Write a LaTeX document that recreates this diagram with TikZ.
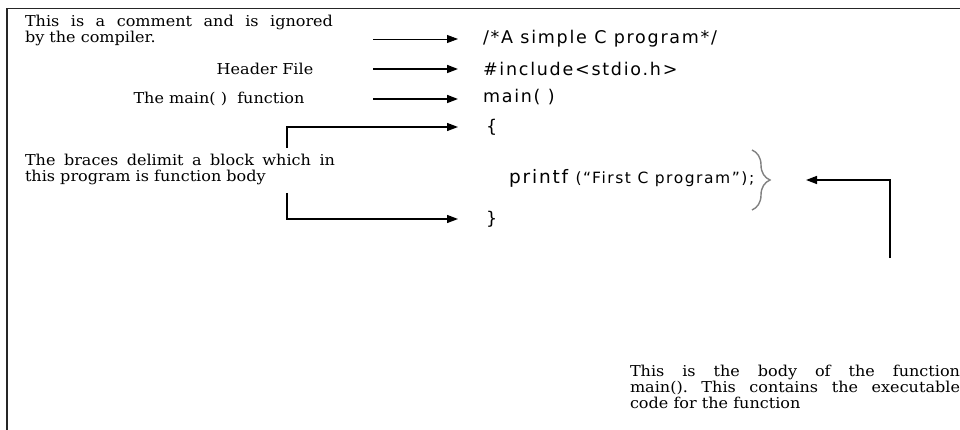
\documentclass[tikz,border=0pt]{standalone}
\usepackage{fontspec}
\setmainfont{DejaVu Serif}[FakeStretch=1.07]
\newfontfamily\codefont{DejaVu Sans}[LetterSpace=10]
\usepackage{tikz}
\usetikzlibrary{arrows.meta,decorations.pathreplacing}

\begin{document}
\frenchspacing
\begin{tikzpicture}[x=1pt,y=-1pt,every node/.style={inner sep=0pt,outer sep=0pt},
    note/.style={anchor=north west,align=justify,font=\fontsize{15}{16}\selectfont},
    label/.style={font=\fontsize{15}{16}\selectfont},
    code/.style={anchor=west,font=\codefont\fontsize{17.5}{20}\selectfont},
    pointer/.style={-{Triangle[length=11pt,width=8pt]},line width=1.6pt,shorten >=25pt}]
  \useasboundingbox (0,0) rectangle (960,430);
  \draw[line width=1.3pt,black!85] (7,430) -- (7,8.5) -- (960,8.5);
  \node[note,text width=308pt] (comment) at (25,15) {This is a comment and is ignored\linebreak by the compiler.};
  \node[label] (header) at (265,69) {Header File};
  \node[label] (mainfn) at (219,99) {The main(\ )\ \ function};
  \node[note,text width=310pt] (braces) at (25,154) {The braces delimit a block which in\linebreak this program is function body};
  \node[note,text width=330pt] (body) at (630,365) {This is the body of the function\linebreak main(). This contains the executable\linebreak code for the function};
  \node[code] (cmt) at (483,39) {/*A simple C program*/};
  \node[code] (incl) at (483,69) {\#include<stdio.h>};
  \node[code] (main) at (483,97) {main( )};
  \node[code] (open) at (486,127) {\{};
  \node[code] (stmt) at (509,178) {{\fontsize{18.5}{20}\selectfont printf} {\fontsize{15.5}{20}\selectfont (“First C program”);}};
  \node[code] (close) at (486,219) {\}};
  \coordinate (bt) at (752,150);
  \coordinate (bb) at (752,210);
  \coordinate (tip) at (770,180);
  \draw[decorate,decoration={brace,amplitude=18pt},gray,line width=1.4pt] (bt) -- (bb);
  \coordinate (s1) at (373,39);
  \coordinate (s2) at (373,69);
  \coordinate (s3) at (373,99);
  \coordinate (s4) at (287,148);
  \coordinate (s5) at (287,193);
  \coordinate (s6) at (890,258);
  \draw[pointer,line width=0.8pt] (s1) -- (cmt.west);
  \draw[pointer] (s2) -- (incl.west);
  \draw[pointer] (s3) -- (s3 -| main.west);
  \draw[pointer,line width=1.3pt,shorten >=28pt] (s4) |- (open.west);
  \draw[pointer,line width=1.3pt,shorten >=28pt] (s5) |- (close.west);
  \draw[pointer,line width=1.4pt,shorten >=36pt] (s6) |- (tip);
\end{tikzpicture}
\end{document}
